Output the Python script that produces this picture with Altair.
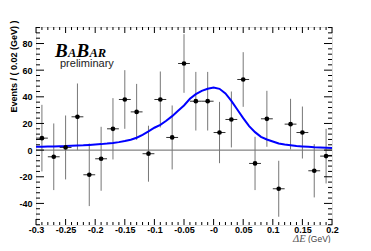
import altair as alt
import pandas as pd

# ---- data ----
x_centers = [-0.29, -0.27, -0.25, -0.23, -0.21, -0.19, -0.17, -0.15, -0.13, -0.11,
             -0.09, -0.07, -0.05, -0.03, -0.01, 0.01, 0.03, 0.05, 0.07, 0.09,
             0.11, 0.13, 0.15, 0.17, 0.19]
counts = [9, -5, 2, 25, -18.5, -6.5, 16, 38, 28.7, -2.7,
          38, 9.5, 65, 36.7, 36.7, 13.2, 23, 53, -10, 23.5,
          -29, 19.5, 13.2, -15.5, -4.5]
errors = [25, 25, 24, 25, 23.5, 24, 23, 22, 21, 21,
          21, 24, 22, 22, 22, 23, 21, 20.5, 20, 21,
          21, 19, 19.5, 20, 20.5]
half_bin = 0.01

curve_x = [-0.30, -0.29, -0.28, -0.27, -0.26, -0.25, -0.24, -0.23, -0.22, -0.21,
           -0.20, -0.19, -0.18, -0.17, -0.16, -0.15, -0.14, -0.13, -0.12, -0.11,
           -0.10, -0.09, -0.08, -0.07, -0.06, -0.05, -0.04, -0.03, -0.02, -0.01,
           0.00, 0.01, 0.02, 0.03, 0.04, 0.05, 0.06, 0.07, 0.08, 0.09,
           0.10, 0.11, 0.12, 0.13, 0.14, 0.15, 0.16, 0.17, 0.18, 0.19, 0.20]
curve_y = [2.5, 2.6, 2.7, 2.8, 2.9, 3.0, 3.2, 3.4, 3.6, 3.9,
           4.2, 4.5, 4.9, 5.4, 6.0, 6.8, 7.8, 9.3, 11.5, 14.0,
           16.8, 19.0, 22.0, 25.5, 29.5, 33.5, 38.5, 42.0, 44.5, 46.0,
           47.0, 46.0, 42.5, 37.0, 30.5, 24.0, 18.0, 13.5, 10.0, 8.0,
           6.5, 5.0, 4.2, 3.6, 3.1, 2.8, 2.5, 2.2, 2.0, 1.8, 1.6]

x_tick_labels = [-0.3, -0.25, -0.2, -0.15, -0.1, -0.05, 0, 0.05, 0.1, 0.15, 0.2]
y_tick_labels = [-40, -20, 0, 20, 40, 60, 80]
x_minor = [round(-0.3 + 0.01 * i, 2) for i in range(51)]
x_minor = [v for v in x_minor if all(abs(v - m) > 1e-9 for m in x_tick_labels)]
y_minor = [v for v in range(-56, 93, 4) if v % 20 != 0 and v > -56.2]

X_DOMAIN = [-0.3, 0.2]
Y_DOMAIN = [-56.2, 92.4]
W, H = 296, 198

pts = pd.DataFrame({
    "x": x_centers,
    "count": counts,
    "lo": [c - e for c, e in zip(counts, errors)],
    "hi": [c + e for c, e in zip(counts, errors)],
    "xlo": [x - half_bin for x in x_centers],
    "xhi": [x + half_bin for x in x_centers],
})
curve = pd.DataFrame({"x": curve_x, "y": curve_y})

xs = alt.Scale(domain=X_DOMAIN, nice=False, zero=False)
ys = alt.Scale(domain=Y_DOMAIN, nice=False, zero=False)

xaxis = alt.Axis(values=x_tick_labels, title=None, ticks=False, domain=False, grid=False,
                 labelExpr="datum.value == 0 ? '-0' : '' + datum.value",
                 labelFont="Liberation Sans", labelFontWeight="bold", labelFontSize=9,
                 labelColor="black", labelPadding=0, labelFlush=False, labelOverlap=False)
yaxis = alt.Axis(values=y_tick_labels, ticks=False, domain=False, grid=False,
                 title="Events / ( 0.02 (GeV) )",
                 labelExpr="'' + datum.value",
                 labelFont="Liberation Sans", labelFontWeight="bold", labelFontSize=9,
                 labelColor="black", labelPadding=4, labelOverlap=False,
                 titleFont="Liberation Sans", titleFontWeight="bold", titleFontSize=9,
                 titleColor="black", titleAngle=270, titleAlign="right",
                 titleBaseline="alphabetic", titleX=-20, titleY=-7)


def X(f):
    return alt.X(f, type="quantitative", scale=xs, axis=xaxis)


def Y(f):
    return alt.Y(f, type="quantitative", scale=ys, axis=yaxis)


zero = alt.Chart(pd.DataFrame({"y": [0]})).mark_rule(color="#666", strokeWidth=1).encode(y=Y("y"))

verr = alt.Chart(pts).mark_rule(color="#777", strokeWidth=1).encode(x=X("x"), y=Y("lo"), y2="hi")
herr = alt.Chart(pts).mark_rule(color="#333", strokeWidth=1).encode(x=X("xlo"), x2="xhi", y=Y("count"))
dots = alt.Chart(pts).mark_circle(size=22, color="black", opacity=1).encode(x=X("x"), y=Y("count"))
line = alt.Chart(curve).mark_line(color="#0000ff", strokeWidth=2, clip=True).encode(x=X("x"), y=Y("y"))

xmaj = pd.DataFrame({"v": x_tick_labels})
xmin = pd.DataFrame({"v": x_minor})
ymaj = pd.DataFrame({"v": y_tick_labels})
ymin = pd.DataFrame({"v": y_minor})


def xticks(df, y0, y1):
    return alt.Chart(df).mark_rule(color="black", strokeWidth=1).encode(
        x=X("v"), y=alt.value(y0), y2=alt.value(y1))


def yticks(df, x0, x1):
    return alt.Chart(df).mark_rule(color="black", strokeWidth=1).encode(
        y=Y("v"), x=alt.value(x0), x2=alt.value(x1))


ticks = [
    xticks(xmaj, H, H - 6), xticks(xmin, H, H - 3),
    xticks(xmaj, 0, 6), xticks(xmin, 0, 3),
    yticks(ymaj, 0, 8), yticks(ymin, 0, 4),
    yticks(ymaj, W, W - 8), yticks(ymin, W, W - 4),
]


def label(text, x, y, font, size, weight="normal", style="normal", color="black"):
    return alt.Chart(pd.DataFrame({"t": [text]})).mark_text(
        align="left", baseline="alphabetic", font=font, fontSize=size,
        fontWeight=weight, fontStyle=style, color=color
    ).encode(text="t:N", x=alt.value(x), y=alt.value(y))


texts = [
    label("B", 19, 30, "Liberation Serif", 19, "bold", "italic"),
    label("A", 32, 30, "Liberation Serif", 12.5, "bold", "italic"),
    label("B", 40.5, 30, "Liberation Serif", 19, "bold", "italic"),
    label("AR", 53.5, 30, "Liberation Serif", 12.5, "bold", "italic"),
    label("preliminary", 24, 40, "Liberation Sans", 11, "normal", "normal", "#222"),
    label("ΔE", 257, 214.5, "Liberation Serif", 10.5, "normal", "italic", "#555"),
    label("(GeV)", 272, 214.5, "Liberation Sans", 8.5, "normal", "normal", "#444"),
]

chart = alt.layer(zero, verr, herr, line, dots, *ticks, *texts).properties(
    width=W, height=H,
    autosize=alt.AutoSizeParams(type="none"),
    padding={"left": 28, "top": 19, "right": 31, "bottom": 18},
).configure_view(stroke="black", strokeWidth=1).configure(background="white")

chart.save("out.html", embed_options={"renderer": "svg", "actions": False})
